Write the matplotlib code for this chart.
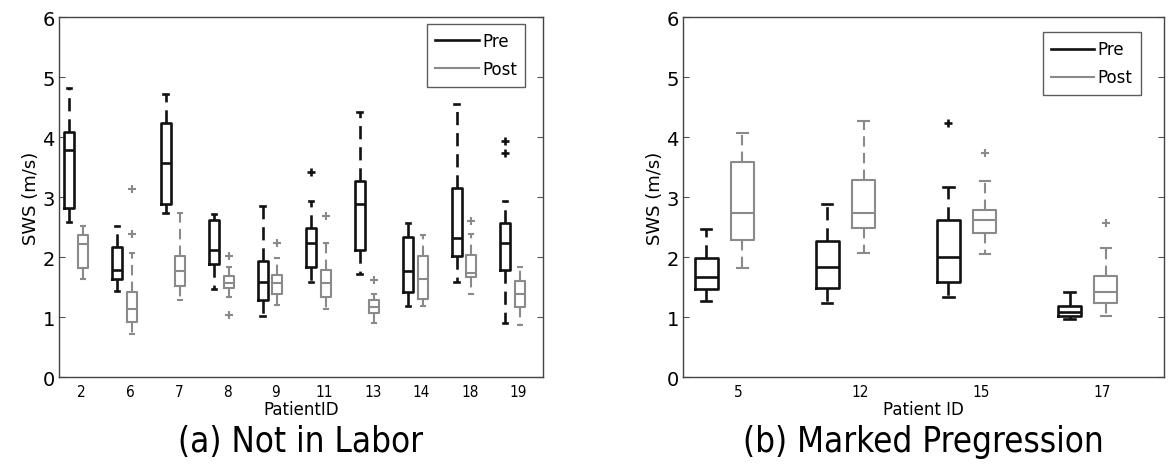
import matplotlib
matplotlib.use('Agg')
import matplotlib.pyplot as plt
from matplotlib.lines import Line2D

# (a) Not in Labor
ids_a = ['2', '6', '7', '8', '9', '11', '13', '14', '18', '19']
pre_a_lo = [2.59, 1.44, 2.74, 1.46, 1.01, 1.58, 1.72, 1.18, 1.59, 0.90]
pre_a_q1 = [2.82, 1.64, 2.88, 1.89, 1.28, 1.84, 2.11, 1.41, 2.02, 1.78]
pre_a_med = [3.79, 1.78, 3.57, 2.11, 1.59, 2.24, 2.89, 1.77, 2.31, 2.24]
pre_a_q3 = [4.09, 2.16, 4.24, 2.62, 1.94, 2.48, 3.26, 2.33, 3.15, 2.57]
pre_a_hi = [4.81, 2.52, 4.71, 2.72, 2.85, 2.93, 4.41, 2.56, 4.55, 2.94]
pre_a_out = [[], [], [], [], [], [3.41], [], [], [], [3.94, 3.73]]

post_a_lo = [1.63, 0.72, 1.29, 1.33, 1.20, 1.13, 0.90, 1.18, 1.39, 0.87]
post_a_q1 = [1.81, 0.92, 1.51, 1.48, 1.39, 1.34, 1.07, 1.30, 1.66, 1.16]
post_a_med = [2.21, 1.14, 1.76, 1.57, 1.57, 1.57, 1.17, 1.63, 1.74, 1.38]
post_a_q3 = [2.37, 1.41, 2.01, 1.68, 1.70, 1.78, 1.28, 2.02, 2.04, 1.60]
post_a_hi = [2.51, 2.07, 2.73, 1.83, 1.98, 2.24, 1.38, 2.36, 2.39, 1.83]
post_a_out = [[], [3.14, 2.38], [], [2.02, 1.04], [2.24], [2.69], [1.61], [], [2.60], []]

# (b) Marked Progression
ids_b = ['5', '12', '15', '17']
pre_b_lo = [1.26, 1.24, 1.33, 0.97]
pre_b_q1 = [1.47, 1.49, 1.59, 1.01]
pre_b_med = [1.66, 1.83, 2.00, 1.09]
pre_b_q3 = [1.99, 2.27, 2.61, 1.19]
pre_b_hi = [2.46, 2.88, 3.16, 1.41]
pre_b_out = [[], [], [4.23], []]

post_b_lo = [1.81, 2.07, 2.05, 1.02]
post_b_q1 = [2.29, 2.48, 2.40, 1.24]
post_b_med = [2.74, 2.74, 2.61, 1.41]
post_b_q3 = [3.59, 3.29, 2.79, 1.68]
post_b_hi = [4.06, 4.26, 3.26, 2.15]
post_b_out = [[], [], [3.73], [2.56]]

PRE_C = '#111111'
POST_C = '#8a8a8a'


def make_stats(lo, q1, med, q3, hi, out):
    stats = []
    for i in range(len(med)):
        stats.append({'whislo': lo[i], 'q1': q1[i], 'med': med[i], 'q3': q3[i],
                      'whishi': hi[i], 'fliers': out[i]})
    return stats


def draw_boxes(ax, stats, pos, color, lw, width):
    ax.bxp(stats, positions=pos, widths=width, capwidths=width * 0.45,
           showfliers=True, manage_ticks=False,
           boxprops=dict(color=color, linewidth=lw),
           medianprops=dict(color=color, linewidth=lw),
           whiskerprops=dict(color=color, linewidth=lw, linestyle=(0, (5, 3))),
           capprops=dict(color=color, linewidth=lw),
           flierprops=dict(marker='+', markeredgecolor=color, markersize=6,
                           markeredgewidth=lw))


def panel(ax, ids, pre, post, width, xlim, xlabel, caption, legend_anchor):
    n = len(ids)
    pre_pos = list(range(n))
    post_pos = [p + 0.3 for p in pre_pos]
    draw_boxes(ax, pre, pre_pos, PRE_C, 1.9, width)
    draw_boxes(ax, post, post_pos, POST_C, 1.5, width)
    ax.set_xlim(*xlim)
    ax.set_ylim(0, 6)
    ax.set_yticks(range(7))
    ax.set_xticks([p + 0.27 for p in pre_pos])
    ax.set_xticklabels(ids, fontsize=11, fontstretch='condensed')
    ax.tick_params(axis='y', direction='in', right=True, length=4, labelsize=14,
                   color='#555555', pad=3)
    ax.tick_params(axis='x', length=0, pad=5)
    for s in ax.spines.values():
        s.set_color('#444444')
        s.set_linewidth(1.0)
    ax.set_xlabel(xlabel, fontsize=12, labelpad=1)
    ax.set_ylabel('SWS (m/s)', fontsize=13, labelpad=2)
    handles = [Line2D([], [], color=PRE_C, lw=1.9), Line2D([], [], color=POST_C, lw=1.5)]
    leg = ax.legend(handles, ['Pre', 'Post'], loc='upper right', bbox_to_anchor=legend_anchor,
                    borderaxespad=0, fontsize=12, frameon=True, fancybox=False,
                    edgecolor='#333333', handlelength=2.6, handletextpad=0.2,
                    borderpad=0.5, labelspacing=0.6)
    leg.get_frame().set_linewidth(1.0)
    ax.text(0.5, -0.178, caption, transform=ax.transAxes, ha='center', va='center',
            fontsize=25, fontstretch='condensed')


fig = plt.figure(figsize=(11.68, 4.77), dpi=100)
ax1 = fig.add_axes([0.0505, 0.2075, 0.4144, 0.7547])
ax2 = fig.add_axes([0.5848, 0.2075, 0.4118, 0.7547])

panel(ax1, ids_a,
      make_stats(pre_a_lo, pre_a_q1, pre_a_med, pre_a_q3, pre_a_hi, pre_a_out),
      make_stats(post_a_lo, post_a_q1, post_a_med, post_a_q3, post_a_hi, post_a_out),
      0.2, (-0.2, 9.78), 'PatientID', '(a) Not in Labor', (0.963, 0.981))
panel(ax2, ids_b,
      make_stats(pre_b_lo, pre_b_q1, pre_b_med, pre_b_q3, pre_b_hi, pre_b_out),
      make_stats(post_b_lo, post_b_q1, post_b_med, post_b_q3, post_b_hi, post_b_out),
      0.19, (-0.19, 3.78), 'Patient ID', '(b) Marked Pregression', (0.952, 0.958))

fig.savefig('out.png', dpi=100)
